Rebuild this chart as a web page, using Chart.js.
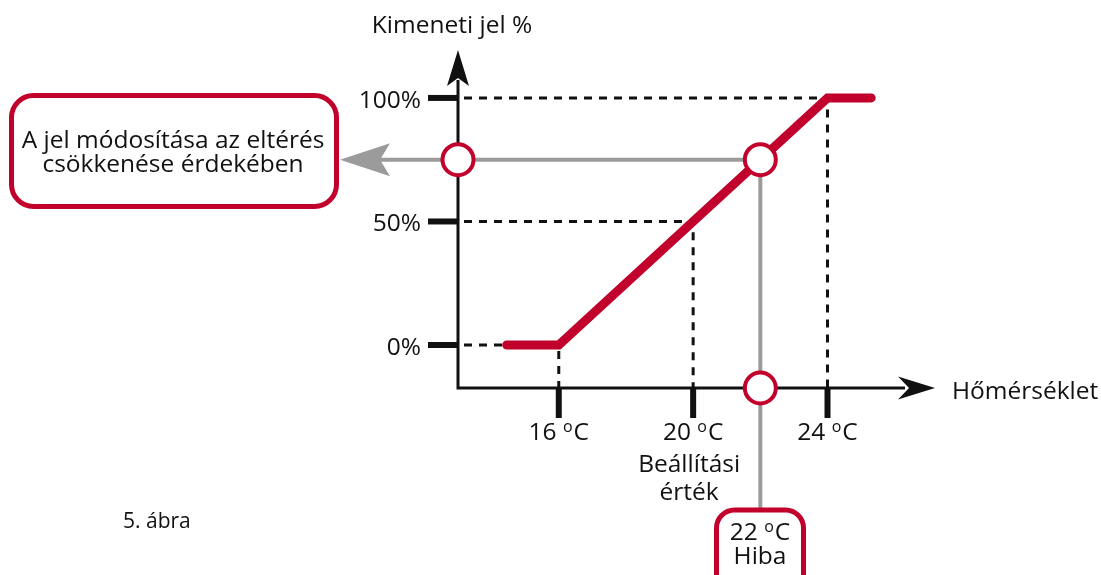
<!DOCTYPE html>
<html>
<head>
<meta charset="utf-8">
<script src="https://cdn.jsdelivr.net/npm/chart.js@4"></script>
<style>
  html, body { margin: 0; padding: 0; background: #fff; }
</style>
</head>
<body>
<canvas id="chart" width="1101" height="575"></canvas>
<script>
// --- Axis ranges ---
const tempMin = 13, tempMax = 27.2;      // °C
const outMin = -17.4, outMax = 119.4;    // %

// --- Ticks ---
const tempTicks = [16, 20, 24];
const tempTickNotes = [[], ['Beállítási', 'érték'], []];
const outTicks = [0, 50, 100];
const outTickLabels = ['0%', '50%', '100%'];

// --- Controller characteristic ---
const curveTemp = [14.45, 16, 24, 25.3];
const curveOut = [0, 0, 100, 100];
const setpointTemp = 20;
const midOut = 50;

// --- Measured temperature and resulting output ---
const errorTemp = 22;
const errorOut = 75;

const RED = '#c1002b';
const GRAY = '#9b9b9b';
const INK = '#111';
const FONT = '"Open Sans", "Noto Sans", sans-serif';
const SIZE = 24.5;

const toPoints = (xs, ys) => xs.map((x, i) => ({ x, y: ys[i] }));

// dashed helper lines from the ticks to the curve
const guideLines = [
    [[tempMin, curveOut[0]], [curveTemp[0], curveOut[0]]],
    [[curveTemp[1], curveOut[1]], [curveTemp[1], outMin]],
    [[tempMin, midOut], [setpointTemp, midOut], [setpointTemp, outMin]],
    [[tempMin, curveOut[3]], [curveTemp[2], curveOut[3]], [curveTemp[2], outMin]]
];

const guideSets = guideLines.map(g => ({
    data: g.map(p => ({ x: p[0], y: p[1] })),
    borderColor: INK,
    borderWidth: 3,
    borderDash: [8, 7],
    borderDashOffset: -6,
    pointRadius: 0,
    fill: false,
    order: 3
}));

// --- Drawing helpers ---
function arrowHead(ctx, tipX, tipY, angle, len, half, notch, color) {
    ctx.save();
    ctx.translate(tipX, tipY);
    ctx.rotate(angle);
    ctx.beginPath();
    ctx.moveTo(0, 0);
    ctx.lineTo(-len, -half);
    ctx.lineTo(-len + notch, 0);
    ctx.lineTo(-len, half);
    ctx.closePath();
    ctx.fillStyle = color;
    ctx.fill();
    ctx.restore();
}

function stroke(ctx, pts, color, width) {
    ctx.save();
    ctx.beginPath();
    pts.forEach((p, i) => i ? ctx.lineTo(p[0], p[1]) : ctx.moveTo(p[0], p[1]));
    ctx.strokeStyle = color;
    ctx.lineWidth = width;
    ctx.stroke();
    ctx.restore();
}

function roundBox(ctx, x, y, w, h, r) {
    ctx.save();
    ctx.beginPath();
    ctx.roundRect(x, y, w, h, r);
    ctx.fillStyle = '#fff';
    ctx.fill();
    ctx.strokeStyle = RED;
    ctx.lineWidth = 5;
    ctx.stroke();
    ctx.restore();
}

// "16 °C" with a small raised o
function degreeLabel(ctx, value, cx, baseline) {
    const big = SIZE + 'px ' + FONT, small = '16px ' + FONT;
    ctx.font = big;
    const wNum = ctx.measureText(value + ' ').width;
    const wC = ctx.measureText('C').width;
    ctx.font = small;
    const wO = ctx.measureText('o').width + 1;
    let x = cx - (wNum + wO + wC) / 2;
    ctx.textAlign = 'left';
    ctx.font = big;
    ctx.fillText(value + ' ', x, baseline);
    x += wNum;
    ctx.font = small;
    ctx.fillText('o', x, baseline - 8);
    x += wO;
    ctx.font = big;
    ctx.fillText('C', x, baseline);
}

function text(ctx, str, x, y, align, size) {
    ctx.font = size + 'px ' + FONT;
    ctx.textAlign = align;
    ctx.fillText(str, x, y);
}

const diagramPlugin = {
    id: 'diagram',
    beforeDatasetsDraw(chart) {
        const { ctx, chartArea: a, scales: { x, y } } = chart;
        const x0 = a.left, y0 = a.bottom;

        // gray connectors from the operating point to the two boxes
        const ex = x.getPixelForValue(errorTemp);
        const ey = y.getPixelForValue(errorOut);
        stroke(ctx, [[ex, ey], [375, ey]], GRAY, 4);
        arrowHead(ctx, 340, ey, Math.PI, 50, 16.5, 10, GRAY);
        stroke(ctx, [[ex, ey], [ex, 512]], GRAY, 4);

        // axes
        stroke(ctx, [[x0, a.top + 30], [x0, y0], [a.right - 30, y0]], INK, 3);
        arrowHead(ctx, x0, a.top, -Math.PI / 2, 36, 11, 8, INK);
        arrowHead(ctx, a.right, y0, 0, 37, 11.5, 11, INK);

        // tick marks
        tempTicks.forEach(t => {
            const px = x.getPixelForValue(t);
            stroke(ctx, [[px, y0], [px, y0 + 30]], INK, 6);
        });
        outTicks.forEach(t => {
            const py = y.getPixelForValue(t);
            stroke(ctx, [[x0 - 30, py], [x0, py]], INK, 6);
        });

        // tick labels
        ctx.fillStyle = INK;
        ctx.textBaseline = 'alphabetic';
        outTicks.forEach((t, i) => {
            text(ctx, outTickLabels[i], x0 - 37, y.getPixelForValue(t) + 10, 'right', SIZE);
        });
        tempTicks.forEach((t, i) => {
            const px = x.getPixelForValue(t);
            degreeLabel(ctx, String(t), px, y0 + 52);
            tempTickNotes[i].forEach((s, j) => text(ctx, s, px - 4, y0 + 84 + j * 28, 'center', SIZE));
        });

        // axis titles
        text(ctx, 'Kimeneti jel %', 452, 33, 'center', SIZE);
        text(ctx, 'Hőmérséklet', 952, y0 + 11, 'left', SIZE);
    },
    afterDatasetsDraw(chart) {
        const { ctx } = chart;
        ctx.save();
        roundBox(ctx, 11.5, 95.5, 325, 111, 22);
        roundBox(ctx, 716.5, 510, 87, 90, 18);
        ctx.fillStyle = INK;
        text(ctx, 'A jel módosítása az eltérés', 173, 148, 'center', SIZE);
        text(ctx, 'csökkenése érdekében', 173, 172, 'center', SIZE);
        degreeLabel(ctx, '22', 760, 540);
        text(ctx, 'Hiba', 760, 564, 'center', SIZE);
        text(ctx, '5. ábra', 123, 528, 'left', 21);
        ctx.restore();
    }
};

new Chart(document.getElementById('chart'), {
    type: 'line',
    data: {
        datasets: [
            {
                // operating point and its projections on the axes
                data: [
                    { x: errorTemp, y: errorOut },
                    { x: tempMin, y: errorOut },
                    { x: errorTemp, y: outMin }
                ],
                showLine: false,
                pointRadius: 15.5,
                pointBorderWidth: 4,
                pointBorderColor: RED,
                pointBackgroundColor: '#fff',
                clip: false,
                order: 0
            },
            {
                data: toPoints(curveTemp, curveOut),
                borderColor: RED,
                borderWidth: 9,
                borderCapStyle: 'round',
                borderJoinStyle: 'miter',
                pointRadius: 0,
                tension: 0,
                fill: false,
                clip: false,
                order: 1
            },
            ...guideSets
        ]
    },
    options: {
        responsive: false,
        animation: false,
        devicePixelRatio: 1,
        layout: { padding: { left: 458, right: 166, top: 50, bottom: 187 } },
        scales: {
            x: { type: 'linear', min: tempMin, max: tempMax, display: false },
            y: { type: 'linear', min: outMin, max: outMax, display: false }
        },
        plugins: { legend: { display: false }, tooltip: { enabled: false } },
        events: []
    },
    plugins: [diagramPlugin]
});
</script>
</body>
</html>
